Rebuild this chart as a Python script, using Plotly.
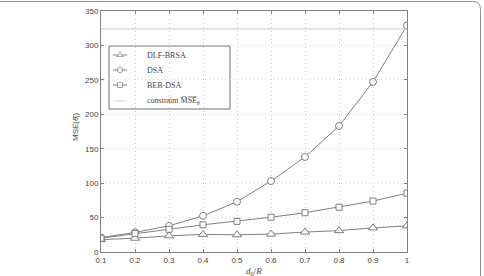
import plotly.graph_objects as go

x_vals = [0.1, 0.2, 0.3, 0.4, 0.5, 0.6, 0.7, 0.8, 0.9, 1.0]
dlf_brsa = [18, 20, 23.5, 25.5, 25, 26, 29, 31, 35, 38]
dsa = [21, 28.5, 38, 52.5, 73, 103, 138, 183, 247, 329]
beb_dsa = [20, 27, 33, 39.5, 44.5, 50.5, 57, 65, 74, 85.5]
constraint = 324
y_ticks = [0, 50, 100, 150, 200, 250, 300, 350]
x_ticks = [0.1, 0.2, 0.3, 0.4, 0.5, 0.6, 0.7, 0.8, 0.9, 1.0]
x_ticklabels = ["0.1", "0.2", "0.3", "0.4", "0.5", "0.6", "0.7", "0.8", "0.9", "1"]
series_names = ["DLF-BRSA", "DSA", "BEB-DSA", "constraint M\u0305S\u0305E\u0305<sub>\u03b8</sub>"]

line_col = "#7f7f7f"
txt_col = "#444444"
fig = go.Figure()

styles = [("triangle-up", 8), ("circle", 7), ("square", 6)]
for name, y, (sym, sz) in zip(series_names[:3], [dlf_brsa, dsa, beb_dsa], styles):
    fig.add_trace(go.Scatter(
        x=x_vals, y=y, name=name, mode="lines+markers", showlegend=False,
        line=dict(color=line_col, width=1),
        marker=dict(symbol=sym, size=sz, color="white",
                    line=dict(color=line_col, width=1)),
    ))
fig.add_trace(go.Scatter(
    x=[x_vals[0], x_vals[-1]], y=[constraint, constraint],
    name=series_names[3], mode="lines", showlegend=False,
    line=dict(color="#c8c8c8", width=1),
))

# ---- manual legend (pixel-space overlay axis) ----
L = 101.0; R = 407.0; T = 11.0; B = 252.0
box = (109, 230, 46, 109)
rows = [55.0, 70.0, 85.0, 101.0]
legend_sizes = [6, 5.5, 5]
for i, name in enumerate(series_names):
    if i < 3:
        sym = styles[i][0]
        fig.add_trace(go.Scatter(
            x=[113, 120, 127], y=[rows[i]] * 3, xaxis="x2", yaxis="y2",
            mode="lines+markers", showlegend=False, hoverinfo="skip",
            line=dict(color=line_col, width=1),
            marker=dict(symbol=sym, size=[0, legend_sizes[i], 0], color="white",
                        line=dict(color=line_col, width=[0, 1, 0])),
        ))
    else:
        fig.add_trace(go.Scatter(
            x=[113, 127], y=[rows[i]] * 2, xaxis="x2", yaxis="y2",
            mode="lines", showlegend=False, hoverinfo="skip",
            line=dict(color="#c8c8c8", width=1),
        ))
    fig.add_annotation(x=(144.5 - L) / (R - L), y=(B - rows[i]) / (B - T),
                       xref="paper", yref="paper", xanchor="left", yanchor="middle",
                       text=name, showarrow=False,
                       font=dict(family="Liberation Serif", size=8, color=txt_col))

fig.add_shape(type="rect", xref="paper", yref="paper",
              x0=(box[0] - L) / (R - L), x1=(box[1] - L) / (R - L),
              y0=(B - box[3]) / (B - T), y1=(B - box[2]) / (B - T),
              line=dict(color="#707070", width=1), fillcolor="white", layer="below")

axis_common = dict(
    showline=True, linecolor="#808080", linewidth=1, mirror="ticks",
    ticks="inside", ticklen=3, tickcolor="#808080", automargin=False,
    showgrid=True, gridcolor="#cfcfcf", griddash="1px,3px", gridwidth=1,
    zeroline=False,
    tickfont=dict(family="Liberation Sans", size=8, color=txt_col),
)

fig.update_layout(
    template="none",
    width=484, height=276,
    margin=dict(l=101, r=77, t=11, b=24, autoexpand=False),
    paper_bgcolor="white", plot_bgcolor="rgba(0,0,0,0)",
    xaxis=dict(range=[0.1, 1.0], tickvals=x_ticks, ticktext=x_ticklabels, **axis_common),
    yaxis=dict(range=[0, 350], tickvals=y_ticks, **axis_common),
    xaxis2=dict(range=[L, R], domain=[0, 1], overlaying="x", visible=False,
                fixedrange=True, automargin=False),
    yaxis2=dict(range=[B, T], domain=[0, 1], overlaying="y", visible=False,
                fixedrange=True, automargin=False),
    showlegend=False,
)

# axis titles
fig.add_annotation(x=(76 - L) / (R - L), y=(B - 127) / (B - T), xref="paper", yref="paper",
                   text="MSE(<i>\u03b8\u0302</i><sub>i</sub>)", showarrow=False, textangle=-90,
                   xanchor="center", yanchor="middle",
                   font=dict(family="Liberation Sans", size=8, color=txt_col))
fig.add_annotation(x=0.5, y=(B - 271) / (B - T), xref="paper", yref="paper",
                   text="<i>d</i><sub>0</sub>/<i>R</i>", showarrow=False,
                   xanchor="center", yanchor="middle",
                   font=dict(family="Liberation Serif", size=9, color=txt_col))

# outer rounded frame (top and right edges visible)
px_w, px_h = R - L, B - T
xr = (480.5 - L) / px_w
yt = (B - 1.5) / px_h
rad = 8
fig.add_shape(type="path", xref="paper", yref="paper",
              path=(f"M {-110/px_w},{yt} L {(480.5-rad-L)/px_w},{yt} "
                    f"Q {xr},{yt} {xr},{(B-1.5-rad)/px_h} L {xr},{-40/px_h}"),
              line=dict(color="#909090", width=1))

fig.write_html("out.html")
